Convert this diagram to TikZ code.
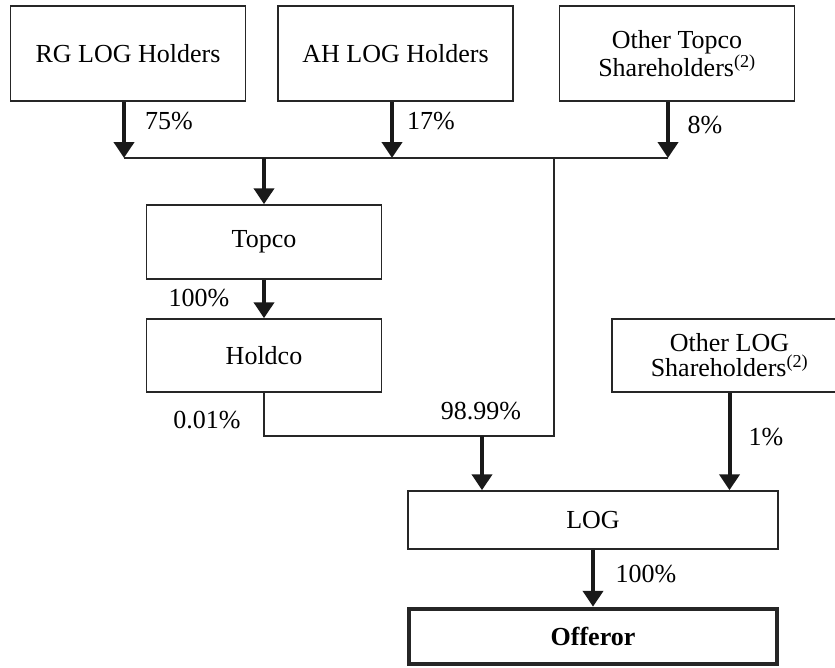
\documentclass[tikz,border=0pt]{standalone}
\usepackage{fontspec}
\setmainfont{Liberation Serif}
\usetikzlibrary{arrows.meta}
\begin{document}
\begin{tikzpicture}[x=1pt,y=-1pt,
  box/.style={draw=black!85,line width=1.5pt,minimum width=235pt,inner sep=0pt,align=center,font=\fontsize{26}{25}\selectfont},
  arr/.style={line width=4pt,draw=black!90,-{Triangle[width=20pt,length=16pt]}},
  link/.style={line width=1.5pt,draw=black!85},
  pct/.style={inner sep=0pt,font=\fontsize{26}{25}\selectfont}]
  \useasboundingbox (0,0) rectangle (835,667);
  \node[box,minimum height=95pt] (rg) at (128,53.5) {RG LOG Holders};
  \node[box,minimum height=95pt] (ah) at (395.5,53.5) {AH LOG Holders};
  \node[box,minimum height=95pt] (othtop) at (677,53.5) {Other Topco\\Shareholders\textsuperscript{(2)}};
  \node[box,minimum height=74pt] (topco) at (264,242) {Topco};
  \node[box,minimum height=73pt] (holdco) at (264,355.5) {Holdco};
  \node[box,minimum height=73pt] (othlog) at (729.5,355.5) {Other LOG\\Shareholders\textsuperscript{(2)}};
  \node[box,minimum width=370pt,minimum height=58pt] (log) at (593,520) {LOG};
  \node[box,line width=4.5pt,minimum width=368pt,minimum height=55pt] (offeror) at (593,636.5) {\textbf{Offeror}};
  \coordinate (b1) at (124,158);
  \coordinate (b2) at (392,158);
  \coordinate (b3) at (668,158);
  \coordinate (b4) at (264,158);
  \coordinate (b5) at (554,158);
  \coordinate (c1) at (554,436);
  \coordinate (c2) at (482,436);
  \draw[arr] (rg.south -| b1) -- (b1);
  \draw[arr] (ah.south -| b2) -- (b2);
  \draw[arr] (othtop.south -| b3) -- (b3);
  \draw[link] (b1) -- (b3);
  \draw[arr] (b4) -- (topco.north);
  \draw[arr] (topco) -- (holdco);
  \draw[link] (b5) -- (c1) -| (holdco.south);
  \draw[arr] (c2) -- (log.north -| c2);
  \draw[arr] (othlog) -- (othlog |- log.north);
  \draw[arr] (log) -- (offeror);
  \node[pct] (p75) at (169,121) {75\%};
  \node[pct] (p17) at (431,121) {17\%};
  \node[pct] (p8) at (705,125) {8\%};
  \node[pct] (p100a) at (199,298) {100\%};
  \node[pct] (p001) at (207,420) {0.01\%};
  \node[pct] (p9899) at (481,411) {98.99\%};
  \node[pct] (p1) at (766,437) {1\%};
  \node[pct] (p100b) at (646,574) {100\%};
\end{tikzpicture}
\end{document}
